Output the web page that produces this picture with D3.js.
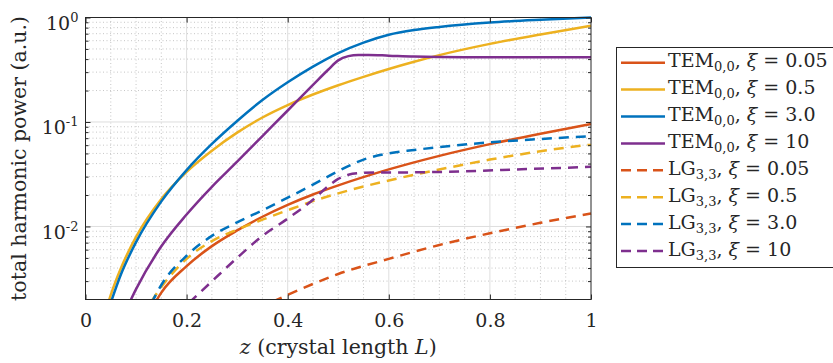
<!DOCTYPE html>
<html>
<head>
<meta charset="utf-8">
<script src="https://cdn.jsdelivr.net/npm/d3@7"></script>
<style>
  html, body { margin: 0; padding: 0; background: #fff; }
  svg { display: block; }
  text { font-family: "DejaVu Serif", serif; fill: #262626; }
</style>
</head>
<body>
<svg id="chart" width="833" height="363"></svg>
<script>
// ---------------- data ----------------
const xTicks = [0, 0.2, 0.4, 0.6, 0.8, 1];
const xTickLabels = ["0", "0.2", "0.4", "0.6", "0.8", "1"];
const yTicks = [1, 0.1, 0.01];
const yTickExponents = ["0", "-1", "-2"];

const xiLabels = ["0.05", "0.5", "3.0", "10"];
const colors = ["#D95319", "#EDB120", "#0072BD", "#7E2F8E"];

// TEM_{0,0}
const zTEM005 = [0.14, 0.15, 0.2, 0.25, 0.3, 0.35, 0.4, 0.45, 0.5, 0.6, 0.7, 0.8, 0.9, 1.0];
const pTEM005 = [0.00195, 0.002328, 0.004169, 0.006486, 0.009162, 0.01239, 0.0161, 0.02023, 0.02472, 0.03516, 0.04742, 0.06138, 0.07727, 0.0955];

const zTEM05 = [0.045, 0.05, 0.07, 0.1, 0.15, 0.2, 0.25, 0.3, 0.35, 0.4, 0.45, 0.5, 0.55, 0.6, 0.65, 0.7, 0.8, 0.9, 1.0];
const pTEM05 = [0.001862, 0.002213, 0.003981, 0.007943, 0.01832, 0.03334, 0.05314, 0.07907, 0.1104, 0.1452, 0.1832, 0.2249, 0.2704, 0.3214, 0.3771, 0.4365, 0.5592, 0.6879, 0.8318];

const zTEM3 = [0.05, 0.07, 0.1, 0.15, 0.2, 0.25, 0.3, 0.35, 0.4, 0.45, 0.5, 0.55, 0.6, 0.65, 0.7, 0.8, 0.9, 1.0];
const pTEM3 = [0.001862, 0.003467, 0.007079, 0.01738, 0.03467, 0.06166, 0.1023, 0.1622, 0.2399, 0.3388, 0.4571, 0.5754, 0.6839, 0.7586, 0.8128, 0.8954, 0.9528, 1.0];

const zTEM10 = [0.085, 0.1, 0.15, 0.2, 0.25, 0.3, 0.35, 0.4, 0.45, 0.48, 0.5, 0.52, 0.54, 0.56, 0.6, 0.65, 0.75, 1.0];
const pTEM10 = [0.001778, 0.002512, 0.006457, 0.01303, 0.02399, 0.04169, 0.07328, 0.1288, 0.2265, 0.3162, 0.389, 0.4266, 0.4385, 0.4385, 0.4315, 0.4227, 0.4169, 0.4159];

// LG_{3,3}
const zLG005 = [0.37, 0.4, 0.45, 0.5, 0.6, 0.7, 0.8, 0.9, 1.0];
const pLG005 = [0.001905, 0.002213, 0.002818, 0.003508, 0.004898, 0.006646, 0.00861, 0.01084, 0.01334];

const zLG05 = [0.13, 0.15, 0.2, 0.25, 0.3, 0.35, 0.4, 0.45, 0.5, 0.55, 0.6, 0.65, 0.7, 0.8, 0.9, 1.0];
const pLG05 = [0.001905, 0.00263, 0.004898, 0.007244, 0.009333, 0.01161, 0.01429, 0.01746, 0.02075, 0.0241, 0.02754, 0.03126, 0.03508, 0.04365, 0.05248, 0.06095];

const zLG3 = [0.13, 0.15, 0.2, 0.25, 0.3, 0.35, 0.4, 0.45, 0.5, 0.55, 0.6, 0.65, 0.7, 0.8, 0.9, 1.0];
const pLG3 = [0.00182, 0.002754, 0.005248, 0.008128, 0.01096, 0.01429, 0.01884, 0.02512, 0.03388, 0.04365, 0.05012, 0.05395, 0.05754, 0.06383, 0.06871, 0.07328];

const zLG10 = [0.205, 0.25, 0.3, 0.35, 0.4, 0.45, 0.48, 0.5, 0.52, 0.54, 0.57, 0.65, 0.75, 0.85, 1.0];
const pLG10 = [0.001862, 0.002985, 0.005012, 0.008128, 0.01189, 0.01799, 0.02427, 0.02851, 0.03126, 0.03236, 0.03281, 0.03296, 0.03373, 0.03508, 0.03724];

const series = [
  { mode: "TEM", sub: "0,0", xi: 0, z: zTEM005, p: pTEM005, dashed: false },
  { mode: "TEM", sub: "0,0", xi: 1, z: zTEM05,  p: pTEM05,  dashed: false },
  { mode: "TEM", sub: "0,0", xi: 2, z: zTEM3,   p: pTEM3,   dashed: false },
  { mode: "TEM", sub: "0,0", xi: 3, z: zTEM10,  p: pTEM10,  dashed: false },
  { mode: "LG",  sub: "3,3", xi: 0, z: zLG005,  p: pLG005,  dashed: true },
  { mode: "LG",  sub: "3,3", xi: 1, z: zLG05,   p: pLG05,   dashed: true },
  { mode: "LG",  sub: "3,3", xi: 2, z: zLG3,    p: pLG3,    dashed: true },
  { mode: "LG",  sub: "3,3", xi: 3, z: zLG10,   p: pLG10,   dashed: true }
];

// ---------------- layout ----------------
const L = 85.5, R = 591, T = 17.5, B = 299.5;
const svg = d3.select("#chart");
const x = d3.scaleLinear().domain([0, 1]).range([L, R]);
const y = d3.scaleLog().domain([0.002, 1]).range([B, T]);

const axisColor = "#262626";
const fs = 19;

// minor grid
const xMinor = d3.range(1, 20).map(i => i * 0.05).filter(v => Math.abs(v * 5 - Math.round(v * 5)) > 1e-6);
const yMinor = [];
[0.001, 0.01, 0.1].forEach(dec => { for (let k = 2; k <= 9; k++) { const v = dec * k; if (v > 0.002 + 1e-9 && v < 1) yMinor.push(v); } });

const grid = svg.append("g");
grid.selectAll("line.xm").data(xMinor).join("line")
  .attr("x1", d => x(d)).attr("x2", d => x(d)).attr("y1", T).attr("y2", B)
  .attr("stroke", "#b8b8b8").attr("stroke-width", 0.8).attr("stroke-dasharray", "1,2.5");
grid.selectAll("line.ym").data(yMinor).join("line")
  .attr("y1", d => y(d)).attr("y2", d => y(d)).attr("x1", L).attr("x2", R)
  .attr("stroke", "#b8b8b8").attr("stroke-width", 0.8).attr("stroke-dasharray", "1,2.5");
// major grid
grid.selectAll("line.xM").data(xTicks.slice(1, -1)).join("line")
  .attr("x1", d => x(d)).attr("x2", d => x(d)).attr("y1", T).attr("y2", B)
  .attr("stroke", "#dedede").attr("stroke-width", 1);
grid.selectAll("line.yM").data(yTicks.slice(1)).join("line")
  .attr("y1", d => y(d)).attr("y2", d => y(d)).attr("x1", L).attr("x2", R)
  .attr("stroke", "#dedede").attr("stroke-width", 1);

// curves
svg.append("clipPath").attr("id", "clip").append("rect")
  .attr("x", L).attr("y", T - 2).attr("width", R - L + 2).attr("height", B - T + 2);
const line = d3.line().x(d => x(d[0])).y(d => y(d[1])).curve(d3.curveMonotoneX);
const curves = svg.append("g").attr("clip-path", "url(#clip)");
series.forEach(s => {
  curves.append("path")
    .attr("d", line(s.z.map((z, i) => [z, s.p[i]])))
    .attr("fill", "none")
    .attr("stroke", colors[s.xi])
    .attr("stroke-width", 2.5)
    .attr("stroke-dasharray", s.dashed ? "10,7" : null);
});

// axes
const gx = svg.append("g").attr("transform", `translate(0,${B})`)
  .call(d3.axisBottom(x).tickValues(xTicks).tickSizeInner(-5).tickSizeOuter(0).tickPadding(14)
    .tickFormat((d, i) => xTickLabels[i]));
const gxt = svg.append("g").attr("transform", `translate(0,${T})`)
  .call(d3.axisTop(x).tickValues(xTicks).tickSizeInner(-5).tickSizeOuter(0).tickFormat(""));
const gy = svg.append("g").attr("transform", `translate(${L},0)`)
  .call(d3.axisLeft(y).tickValues(yTicks).tickSizeInner(-5).tickSizeOuter(0).tickFormat(""));
const gyr = svg.append("g").attr("transform", `translate(${R},0)`)
  .call(d3.axisRight(y).tickValues(yTicks).tickSizeInner(-5).tickSizeOuter(0).tickFormat(""));
const gym = svg.append("g").attr("transform", `translate(${L},0)`)
  .call(d3.axisLeft(y).tickValues(yMinor).tickSizeInner(-3).tickSizeOuter(0).tickFormat(""));
const gymr = svg.append("g").attr("transform", `translate(${R},0)`)
  .call(d3.axisRight(y).tickValues(yMinor).tickSizeInner(-3).tickSizeOuter(0).tickFormat(""));
[gx, gxt, gy, gyr, gym, gymr].forEach(g => {
  g.select(".domain").remove();
  g.attr("font-family", null);
  g.selectAll(".tick line").attr("stroke", axisColor).attr("stroke-width", 1);
});
gx.selectAll(".tick text").attr("font-size", fs).attr("fill", axisColor);

// y tick labels with superscripts
gy.selectAll(".tick").each(function(d, i) {
  const t = d3.select(this).append("text")
    .attr("x", -7).attr("y", 12)
    .attr("text-anchor", "end").attr("font-size", fs).attr("fill", axisColor);
  t.append("tspan").text("10");
  t.append("tspan").attr("font-size", 13).attr("dy", -8).text(yTickExponents[i]);
});

// box
svg.append("rect").attr("x", L).attr("y", T).attr("width", R - L).attr("height", B - T)
  .attr("fill", "none").attr("stroke", axisColor).attr("stroke-width", 1);

// axis titles
const xt = svg.append("text").attr("x", (L + R) / 2).attr("y", 354)
  .attr("text-anchor", "middle").attr("font-size", 20.5);
xt.append("tspan").attr("font-style", "italic").text("z");
xt.append("tspan").text(" (crystal length ");
xt.append("tspan").attr("font-style", "italic").text("L");
xt.append("tspan").text(")");

svg.append("text").attr("transform", `translate(26,${(T + B) / 2}) rotate(-90)`)
  .attr("text-anchor", "middle").attr("font-size", 20.5)
  .text("total harmonic power (a.u.)");

// legend
const lg = svg.append("g");
lg.append("rect").attr("x", 616.5).attr("y", 47.5).attr("width", 222).attr("height", 220)
  .attr("fill", "#fff").attr("stroke", axisColor).attr("stroke-width", 1);
const rowY = d3.scaleLinear().domain([0, 7]).range([62.7, 251]);
series.forEach((s, i) => {
  const cy = rowY(i);
  lg.append("line").attr("x1", 621).attr("x2", 665).attr("y1", cy).attr("y2", cy)
    .attr("stroke", colors[s.xi]).attr("stroke-width", 2.5)
    .attr("stroke-dasharray", s.dashed ? "10,6" : null);
  const t = lg.append("text").attr("x", 668).attr("y", cy + 4.5).attr("font-size", fs);
  t.append("tspan").text(s.mode);
  t.append("tspan").attr("font-size", 13).attr("dy", 4).text(s.sub);
  t.append("tspan").attr("dy", -4).text(", ");
  t.append("tspan").attr("font-style", "italic").text("ξ");
  t.append("tspan").text(" = " + xiLabels[s.xi]);
});
</script>
</body>
</html>
